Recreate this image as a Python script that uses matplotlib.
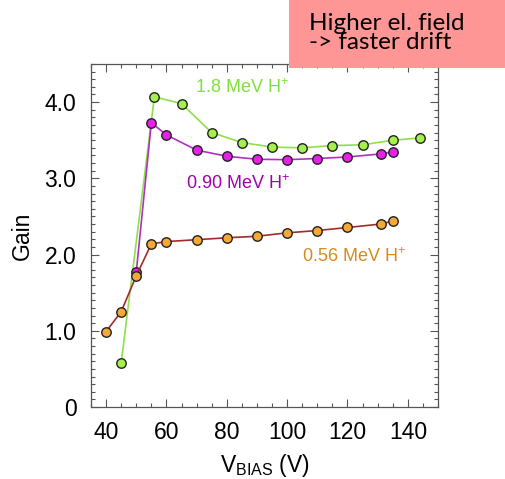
import matplotlib
matplotlib.use("Agg")
import matplotlib.pyplot as plt
from matplotlib.patches import Rectangle
from matplotlib.ticker import MultipleLocator

plt.rcParams['font.family'] = ['Liberation Sans', 'DejaVu Sans']
plt.rcParams['mathtext.fontset'] = 'custom'
plt.rcParams['mathtext.rm'] = 'Liberation Sans'

# Data
v_18 = [45, 56, 65, 75, 85, 95, 105, 115, 125, 135, 144]
g_18 = [0.58, 4.07, 3.98, 3.60, 3.47, 3.41, 3.40, 3.43, 3.44, 3.50, 3.53]

v_090 = [50, 55, 60, 70, 80, 90, 100, 110, 120, 131, 135]
g_090 = [1.77, 3.73, 3.57, 3.37, 3.29, 3.25, 3.245, 3.26, 3.28, 3.32, 3.35]

v_056 = [40, 45, 50, 55, 60, 70, 80, 90, 100, 110, 120, 131, 135]
g_056 = [0.99, 1.25, 1.72, 2.14, 2.17, 2.195, 2.22, 2.24, 2.285, 2.315, 2.355, 2.40, 2.44]

xticks = [40, 60, 80, 100, 120, 140]
yticks = [0, 1, 2, 3, 4]
ytick_labels = ['0', '1.0', '2.0', '3.0', '4.0']

fig = plt.figure(figsize=(5.05, 4.79), dpi=100)
ax = fig.add_axes([91/505, 1-407/479, (438-91)/505, (407-64)/479])

ms = 6.8
ax.plot(v_056, g_056, '-o', color='#a52a2a', lw=1.2, ms=ms, mfc='#f4a836', mec='#222222', mew=1.0, zorder=3)
ax.plot(v_18, g_18, '-o', color='#8ee04a', lw=1.2, ms=ms, mfc='#a6f04e', mec='#222222', mew=1.0, zorder=2)
ax.plot(v_090, g_090, '-o', color='#b030c0', lw=1.2, ms=ms, mfc='#e522e5', mec='#222222', mew=1.0, zorder=2)

ax.set_xlim(35, 150)
ax.set_ylim(0, 4.5)
ax.set_xticks(xticks)
ax.set_yticks(yticks)
ax.set_yticklabels(ytick_labels)
ax.xaxis.set_minor_locator(MultipleLocator(5))
ax.yaxis.set_minor_locator(MultipleLocator(0.1))
ax.tick_params(which='both', direction='in', top=True, right=True, color='#555555', width=0.8)
ax.tick_params(which='major', length=6, labelsize=16.5)
ax.tick_params(axis='y', which='major', pad=10.5)
ax.tick_params(axis='x', which='major', pad=10)
ax.tick_params(which='minor', length=3)
for s in ax.spines.values():
    s.set_color('#555555')
    s.set_linewidth(0.9)

ax.set_ylabel('Gain', fontsize=16.5, labelpad=8)
ax.set_xlabel(r'V$_{\mathregular{BIAS}}$ (V)', fontsize=16.5, labelpad=6)

ax.text(0.30, 0.93, r'1.8 MeV H$^{+}$', transform=ax.transAxes, color='#7fe03a', fontsize=13, va='center')
ax.text(0.275, 0.652, r'0.90 MeV H$^{+}$', transform=ax.transAxes, color='#a000b0', fontsize=13, va='center')
ax.text(0.607, 0.437, r'0.56 MeV H$^{+}$', transform=ax.transAxes, color='#d98a1c', fontsize=13, va='center')

fig.patches.append(Rectangle((289/505, 1-68/479), 216/505, 68/479, transform=fig.transFigure,
                             facecolor='#ff9696', edgecolor='none', zorder=5))
fig.text(309/505, 1-33/479, 'Higher el. field\n-> faster drift', fontsize=17.5, family=['Lato', 'DejaVu Sans'],
         color='black', va='center', ha='left', linespacing=0.85, zorder=6)

fig.savefig('out.png', dpi=100)
